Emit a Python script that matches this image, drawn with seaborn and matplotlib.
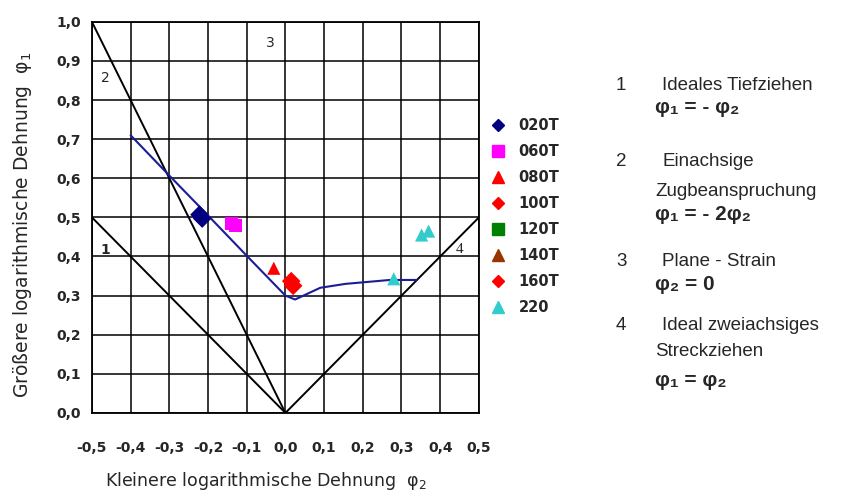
import numpy as np
import pandas as pd
import seaborn as sns
import matplotlib
matplotlib.use("Agg")
from matplotlib import pyplot as plt
from matplotlib.lines import Line2D

# data
series = ["020T", "020T", "060T", "060T", "080T", "100T", "160T", "220", "220", "220"]
phi2 = [-0.222, -0.215, -0.14, -0.13, -0.03, 0.015, 0.02, 0.28, 0.352, 0.37]
phi1 = [0.507, 0.497, 0.485, 0.48, 0.37, 0.337, 0.325, 0.343, 0.455, 0.465]

curve_x = [-0.40, -0.30, -0.20, -0.10, 0.00, 0.025, 0.09, 0.155, 0.27, 0.34]
curve_y = [0.71, 0.607, 0.505, 0.402, 0.30, 0.29, 0.32, 0.33, 0.34, 0.34]

line1_x = [-0.5, 0.0]
line1_y = [0.5, 0.0]
line2_x = [-0.5, 0.0]
line2_y = [1.0, 0.0]
line4_x = [0.0, 0.5]
line4_y = [0.0, 0.5]

legend_names = ["020T", "060T", "080T", "100T", "120T", "140T", "160T", "220"]
legend_colors = ["#000080", "#ff00ff", "#ff0000", "#ff0000", "#008000", "#993300", "#ff0000", "#33cccc"]
legend_markers = ["D", "s", "^", "D", "s", "^", "D", "^"]

xticks = [-0.5, -0.4, -0.3, -0.2, -0.1, 0.0, 0.1, 0.2, 0.3, 0.4, 0.5]
xtick_labels = ["-0,5", "-0,4", "-0,3", "-0,2", "-0,1", "0,0", "0,1", "0,2", "0,3", "0,4", "0,5"]
yticks = [0.0, 0.1, 0.2, 0.3, 0.4, 0.5, 0.6, 0.7, 0.8, 0.9, 1.0]
ytick_labels = ["0,0", "0,1", "0,2", "0,3", "0,4", "0,5", "0,6", "0,7", "0,8", "0,9", "1,0"]

sns.set_style("white")
plt.rcParams["font.family"] = ["DejaVu Sans"]

fig = plt.figure(figsize=(8.59, 4.91), dpi=100)
ax = fig.add_axes([0.107, 0.159, 0.4505, 0.7965])

# reference strain paths
for lx, ly in [(line1_x, line1_y), (line2_x, line2_y), (line4_x, line4_y)]:
    sns.lineplot(x=lx, y=ly, color="black", lw=1.4, ax=ax, sort=False, estimator=None)

# forming limit curve
sns.lineplot(x=curve_x, y=curve_y, color="#1c1c99", lw=1.5, ax=ax, sort=False, estimator=None)

df = pd.DataFrame({"serie": series, "phi2": phi2, "phi1": phi1})
pal = dict(zip(legend_names, legend_colors))
mk = dict(zip(legend_names, legend_markers))
sns.scatterplot(data=df, x="phi2", y="phi1", hue="serie", style="serie",
                palette=pal, markers=mk, s=90, edgecolor="none", ax=ax, legend=False, zorder=5)

ax.set_xlim(-0.5, 0.5)
ax.set_ylim(0.0, 1.0)
ax.set_xticks(xticks)
ax.set_xticklabels(xtick_labels, fontsize=10, fontweight="bold")
ax.set_yticks(yticks)
ax.set_yticklabels(ytick_labels, fontsize=10, fontweight="bold")
ax.tick_params(axis="x", length=0, pad=20)
ax.tick_params(axis="y", length=0, pad=8)
ax.grid(True, color="black", lw=1.1)
for sp in ax.spines.values():
    sp.set_color("black")
    sp.set_linewidth(1.3)

ax.set_xlabel("Kleinere logarithmische Dehnung  φ$_2$", fontsize=12.5)
ax.set_ylabel("Größere logarithmische Dehnung  φ$_1$", fontsize=13.5)
ax.xaxis.set_label_coords(0.45, -0.145)
ax.yaxis.set_label_coords(-0.15, 0.482)

ax.text(-0.466, 0.417, "1", fontsize=10, fontweight="bold", ha="center", va="center")
ax.text(-0.466, 0.857, "2", fontsize=10, ha="center", va="center")
ax.text(-0.04, 0.946, "3", fontsize=10, ha="center", va="center")
ax.text(0.45, 0.417, "4", fontsize=11, family="Liberation Serif", ha="center", va="center")

# legend
handles = [Line2D([], [], ls="none", marker=m, color=c, markersize=8 if m != "D" else 6.5)
           for m, c in zip(legend_markers, legend_colors)]
leg = fig.legend(handles, legend_names, loc="upper left", bbox_to_anchor=(0.556, 0.787),
                 frameon=False, handletextpad=0.9, labelspacing=0.76, handlelength=1.0,
                 prop={"weight": "bold", "size": 10.5})

# right-hand description block
fam = ["Liberation Sans", "DejaVu Sans"]
def t(x, y, s, fs=13.5, **kw):
    fig.text(x / 859, 1 - y / 491, s, fontsize=fs, family=fam, va="center", **kw)

t(616, 85, "1")
t(662, 85, "Ideales Tiefziehen")
t(655, 108, "φ₁ = - φ₂", fs=15, fontweight="bold")
t(616, 162, "2")
t(662, 162, "Einachsige")
t(655, 192, "Zugbeanspruchung")
t(655, 215, "φ₁ = - 2φ₂", fs=15, fontweight="bold")
t(616, 261, "3")
t(662, 261, "Plane - Strain")
t(655, 285, "φ₂ = 0", fs=15, fontweight="bold")
t(616, 325, "4")
t(662, 325, "Ideal zweiachsiges")
t(655, 352, "Streckziehen")
t(655, 380, "φ₁ = φ₂", fs=15, fontweight="bold")

fig.savefig("out.png", dpi=100)
